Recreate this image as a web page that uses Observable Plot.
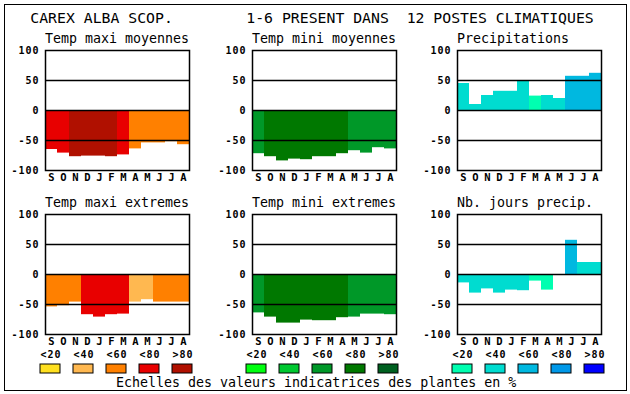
<!DOCTYPE html>
<html><head><meta charset="utf-8">
<script src="https://cdn.jsdelivr.net/npm/d3@7"></script>
<script src="https://cdn.jsdelivr.net/npm/@observablehq/plot@0.6"></script>
<style>
html,body{margin:0;padding:0;background:#fff;}
#chart{position:relative;width:630px;height:394px;overflow:hidden;background:#fff;}
#chart svg{position:absolute;left:0;top:0;}
.border{position:absolute;left:4px;top:4px;width:623px;height:387px;box-sizing:border-box;border:1.7px solid #000;}
[aria-label^="y-axis"] text{font-size:10px !important;font-weight:bold;letter-spacing:1px;}
[aria-label^="x-axis"] text{font-size:10.5px !important;font-weight:bold;}
</style></head><body><div id="chart"><div class="border"></div></div>
<script>
// ---- data ----
const months = ["S","O","N","D","J","F","M","A","M","J","J","A"];
const legendLabels = ["<20","<40","<60","<80",">80"];

const tmaxMoy    = [-65,-71,-77,-76,-76,-77,-74,-64,-54,-54,-52,-57];
const tmaxMoyLvl = [3,3,4,4,4,4,3,2,2,2,2,2];
const tminMoy    = [-72,-77,-84,-81,-82,-77,-77,-72,-67,-71,-62,-64];
const tminMoyLvl = [2,3,3,3,3,3,3,3,2,2,2,2];
const precip     = [45,10,25,32,32,49,24,25,20,57,57,62];
const precipLvl  = [1,1,1,1,1,1,0,1,1,2,2,2];
const tmaxExt    = [-54,-52,-46,-67,-71,-67,-66,-46,-42,-46,-46,-46];
const tmaxExtLvl = [2,2,2,3,3,3,3,1,1,2,2,2];
const tminExt    = [-64,-71,-81,-81,-76,-77,-77,-72,-71,-66,-66,-67];
const tminExtLvl = [2,3,3,3,3,3,3,3,2,2,2,2];
const jours      = [-14,-31,-24,-31,-26,-27,-11,-26,0,57,20,20];
const joursLvl   = [1,1,1,1,1,1,0,0,1,2,1,1];

// ---- styles ----
const reds   = ["#ffe020","#ffb850","#ff8000","#e80000","#b01000"];
const greens = ["#00ff10","#00c830","#009828","#007800","#006020"];
const blues  = ["#00ffb0","#00dcd0","#00b8e0","#0098e8","#0000ff"];
const FONT = "DejaVu Sans Mono";
const W = 630, H = 394, PW = 144, PH = 120;

const panels = [
  {title:"Temp maxi moyennes", values:tmaxMoy, levels:tmaxMoyLvl, palette:reds,   left:45,  top:50},
  {title:"Temp mini moyennes", values:tminMoy, levels:tminMoyLvl, palette:greens, left:252, top:50},
  {title:"Precipitations",     values:precip,  levels:precipLvl,  palette:blues,  left:457, top:50},
  {title:"Temp maxi extremes", values:tmaxExt, levels:tmaxExtLvl, palette:reds,   left:45,  top:214},
  {title:"Temp mini extremes", values:tminExt, levels:tminExtLvl, palette:greens, left:252, top:214},
  {title:"Nb. jours precip.",  values:jours,   levels:joursLvl,   palette:blues,  left:457, top:214}
];

const chart = document.getElementById("chart");

function panel(p){
  const data = months.map((m,i)=>({i, v:p.values[i], lvl:p.levels[i]}));
  return Plot.plot({
    width:W, height:H,
    marginLeft:p.left, marginRight:W-p.left-PW, marginTop:p.top, marginBottom:H-p.top-PH,
    style:{background:"none", fontFamily:FONT, overflow:"visible", color:"#000"},
    x:{type:"band", domain:d3.range(12), padding:0, tickSize:0, tickPadding:3, tickFormat:i=>months[i], label:null},
    y:{domain:[-100,100], ticks:[-100,-50,0,50,100], tickSize:0, tickPadding:6, tickFormat:d=>`${d}`, label:null},
    color:{type:"ordinal", domain:[0,1,2,3,4], range:p.palette},
    marks:[
      Plot.barY(data,{x:"i", y:"v", fill:"lvl"}),
      Plot.ruleY([50,0,-50],{stroke:"#000", strokeWidth:1.5}),
      Plot.frame({stroke:"#000", strokeWidth:1.5})
    ]
  });
}
panels.forEach(p=>chart.appendChild(panel(p)));

function legend(palette, x0){
  return Plot.plot({
    width:W, height:H,
    style:{background:"none", fontFamily:FONT, overflow:"visible", color:"#000", letterSpacing:"1px"},
    x:{type:"band", domain:legendLabels, range:[x0, x0+152.4], paddingInner:0.394, paddingOuter:0, axis:null},
    y:{type:"band", domain:["swatch"], range:[364,373.5], padding:0, axis:null},
    color:{type:"ordinal", domain:[0,1,2,3,4], range:palette},
    marks:[
      Plot.cell(legendLabels,{x:d=>d, y:()=>"swatch", fill:(d,i)=>i, stroke:"#000", strokeWidth:1, inset:0}),
      Plot.text(legendLabels,{x:d=>d, y:()=>"swatch", dy:-14.5, dx:0.5, text:d=>d, fontWeight:"bold", fontSize:10, fill:"#000"})
    ]
  });
}
chart.appendChild(legend(reds, 39.3));
chart.appendChild(legend(greens, 245.3));
chart.appendChild(legend(blues, 451.3));

// ---- titles ----
const svg = d3.select(chart).append("svg").attr("width",W).attr("height",H)
  .style("font-family",FONT).style("white-space","pre");
const texts = [
  {t:"CAREX ALBA SCOP.", x:30.3, y:23.3, s:14.8},
  {t:"1-6 PRESENT DANS  12 POSTES CLIMATIQUES", x:246.3, y:23.3, s:14.8},
  ...panels.map((p,k)=>({t:p.title, x:p.left, y:k<3?43.3:207.3, s:13.3})),
  {t:"Echelles des valeurs indicatrices des plantes en %", x:116, y:386.5, s:13.3}
];
svg.selectAll("text").data(texts).join("text")
  .attr("x",d=>d.x).attr("y",d=>d.y).attr("font-size",d=>d.s)
  .attr("xml:space","preserve").text(d=>d.t);
</script></body></html>
